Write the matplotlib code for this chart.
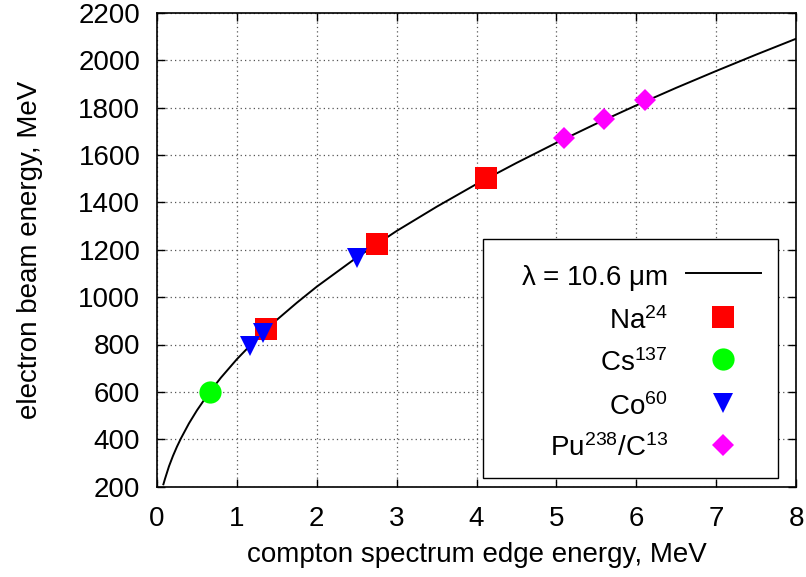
import matplotlib
matplotlib.use('Agg')
import matplotlib.pyplot as plt
from matplotlib.patches import Rectangle

plt.rcParams['font.family'] = 'Liberation Sans'
plt.rcParams['mathtext.fontset'] = 'custom'
plt.rcParams['mathtext.rm'] = 'Liberation Sans'
plt.rcParams['mathtext.default'] = 'regular'

# laser curve, lambda = 10.6 um
curve_x = [0.08, 0.1, 0.15, 0.2, 0.25, 0.3, 0.4, 0.5, 0.6, 0.7, 0.8, 1.0, 1.25, 1.5, 1.75,
           2.0, 2.5, 3.0, 3.5, 4.0, 4.5, 5.0, 5.5, 6.0, 6.5, 7.0, 7.5, 8.0]
curve_y = [210, 233, 286, 330, 369, 404, 467, 522, 571, 617, 660, 738, 825, 904, 976,
           1044, 1167, 1279, 1381, 1477, 1566, 1651, 1732, 1809, 1883, 1954, 2023, 2090]

# calibration sources
na_x = [1.37, 2.75, 4.12]
na_y = [865, 1226, 1502]
cs_x = [0.662]
cs_y = [601]
co_x = [1.17, 1.33, 2.50]
co_y = [795, 848, 1167]
pu_x = [5.09, 5.60, 6.11]
pu_y = [1672, 1753, 1832]

labels = [r'$\lambda$ = 10.6 $\mu$m', 'Na$^{24}$', 'Cs$^{137}$', 'Co$^{60}$', 'Pu$^{238}$/C$^{13}$']

W, H = 806, 577
L, R, T, B = 157, 796, 12.7, 486.7
fig = plt.figure(figsize=(W/100, H/100), dpi=100)
ax = fig.add_axes([L/W, 1-B/H, (R-L)/W, (B-T)/H])

ax.plot(curve_x, curve_y, color='black', lw=1.4, zorder=3)
ax.plot(na_x, na_y, 's', color='#ff0000', ms=16.5, mew=0, zorder=4)
ax.plot(cs_x, cs_y, 'o', color='#00ff00', ms=16, mew=0, zorder=4)
ax.plot(co_x, co_y, 'v', color='#0000ff', ms=15, mew=0, zorder=5)
ax.plot(pu_x, pu_y, 'D', color='#ff00ff', ms=10.7, mew=0, zorder=4)

ax.set_xlim(0, 8)
ax.set_ylim(200, 2200)
ax.set_xticks(range(0, 9))
ax.set_yticks(range(200, 2201, 200))
ax.tick_params(direction='in', top=True, right=True, length=6, width=1,
               labelsize=20, pad=12)
ax.tick_params(axis='x', pad=14)
ax.grid(True, color='#555555', lw=0.9, ls=(0, (1, 2.5)))
for s in ax.spines.values():
    s.set_linewidth(1.2)

fig.text((L+R)/2/W, 1-555/H, 'compton spectrum edge energy, MeV', fontsize=20,
         ha='center', va='center')
fig.text(30/W, 1-(T+B)/2/H, 'electron beam energy, MeV', fontsize=20,
         ha='center', va='center', rotation=90)

# legend drawn by hand so text is right-aligned like gnuplot
def pos(px, py):
    return (px-L)/(R-L), (B-py)/(B-T)

x0, y0 = pos(482.7, 478.3)
x1, y1 = pos(777.7, 239.3)
ax.add_patch(Rectangle((x0, y0), x1-x0, y1-y0, transform=ax.transAxes,
                       facecolor='white', edgecolor='black', lw=1, zorder=6))
rows = [273.3, 317.3, 359.3, 403.3, 445]
styles = [None, ('s', '#ff0000', 16.5), ('o', '#00ff00', 16),
          ('v', '#0000ff', 15), ('D', '#ff00ff', 10.7)]
tx, _ = pos(667.7, 0)
mx, _ = pos(723, 0)
lx0, _ = pos(686, 0)
lx1, _ = pos(760.7, 0)
for r, lab, st in zip(rows, labels, styles):
    _, ty = pos(0, r+11.5)
    _, my = pos(0, r)
    ax.text(tx, ty, lab, transform=ax.transAxes, fontsize=20, ha='right',
            va='baseline', zorder=7)
    if st is None:
        ax.plot([lx0, lx1], [my, my], color='black', lw=1.4,
                transform=ax.transAxes, zorder=7)
    else:
        ax.plot([mx], [my], st[0], color=st[1], ms=st[2], mew=0,
                transform=ax.transAxes, zorder=7)

fig.savefig('out.png', dpi=100)
